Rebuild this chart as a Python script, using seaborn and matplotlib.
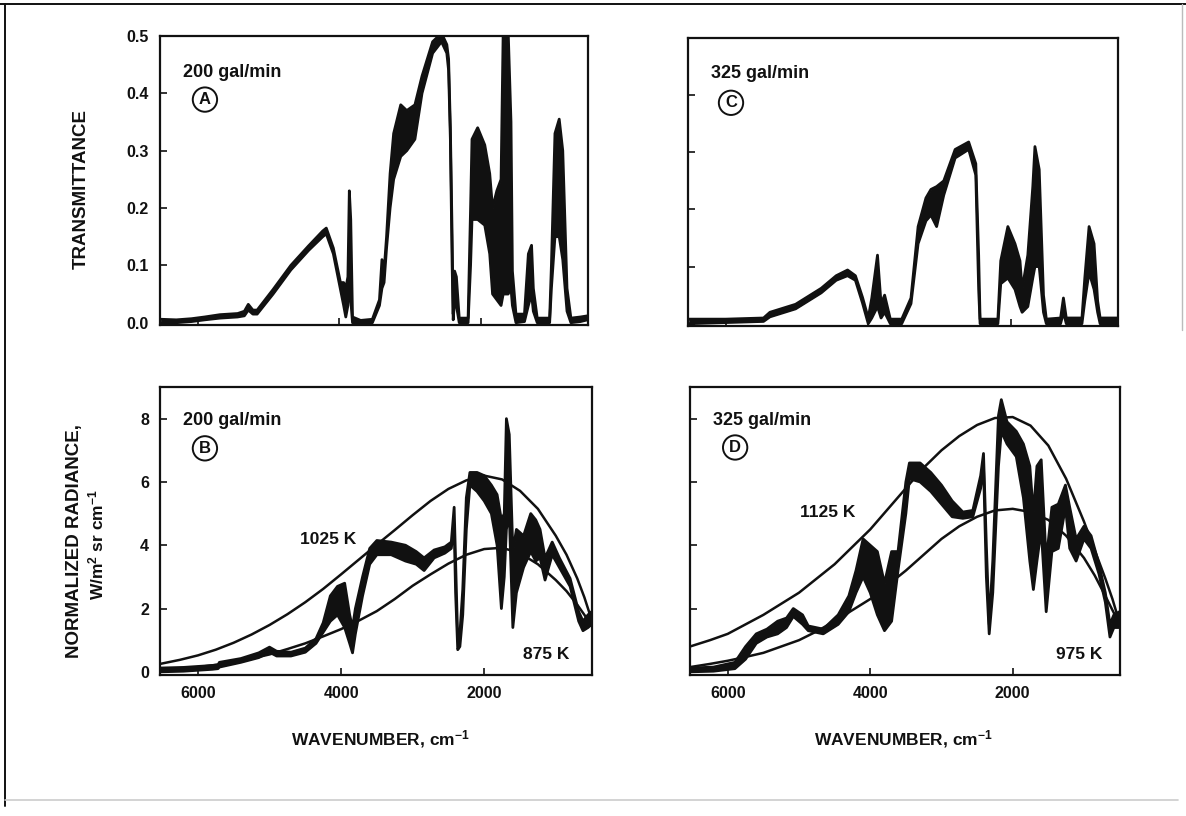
import matplotlib
matplotlib.use("Agg")
import matplotlib.pyplot as plt
from matplotlib.lines import Line2D
import pandas as pd
import seaborn as sns

# ---------------- data ----------------
# transmittance, 200 gal/min (A): wavenumber, lower and upper edge of the trace
wn_a = [6520, 6300, 6085, 5900, 5685, 5435, 5340, 5285, 5220, 5160, 4935, 4685, 4435, 4235,
        4185, 4085, 3985, 3940, 3910, 3880, 3860, 3840, 3815, 3700, 3535, 3435, 3400, 3370,
        3335, 3285, 3235, 3135, 3050, 2935, 2835, 2685, 2560, 2485, 2460, 2435, 2410, 2395, 2375,
        2350, 2310, 2185, 2150, 2130, 2050, 1950, 1880, 1840, 1780, 1720, 1690, 1620, 1580,
        1560, 1510, 1390, 1335, 1290, 1265, 1210, 1035, 1010, 960, 900, 850, 790, 735, 600, 500]
lo_a = [0.000, 0.000, 0.002, 0.005, 0.008, 0.010, 0.012, 0.022, 0.015, 0.015, 0.050, 0.092, 0.126, 0.150,
        0.155, 0.120, 0.058, 0.030, 0.010, 0.030, 0.070, 0.040, 0.000, 0.000, 0.000, 0.030, 0.060, 0.070,
        0.130, 0.200, 0.250, 0.290, 0.300, 0.320, 0.400, 0.470, 0.490, 0.470, 0.440, 0.320, 0.100, 0.005, 0.040,
        0.030, 0.000, 0.000, 0.100, 0.180, 0.180, 0.170, 0.120, 0.050, 0.040, 0.030, 0.050, 0.050, 0.060,
        0.030, 0.000, 0.002, 0.030, 0.050, 0.020, 0.000, 0.000, 0.060, 0.150, 0.150, 0.110, 0.020, 0.000, 0.002, 0.005]
hi_a = [0.006, 0.005, 0.007, 0.010, 0.014, 0.016, 0.020, 0.032, 0.022, 0.022, 0.058, 0.100, 0.134, 0.160,
        0.165, 0.130, 0.070, 0.070, 0.060, 0.080, 0.230, 0.180, 0.010, 0.004, 0.006, 0.040, 0.110, 0.090,
        0.150, 0.260, 0.330, 0.380, 0.370, 0.380, 0.430, 0.490, 0.505, 0.485, 0.460, 0.340, 0.150, 0.015, 0.090,
        0.080, 0.008, 0.008, 0.200, 0.320, 0.340, 0.310, 0.260, 0.200, 0.230, 0.250, 0.510, 0.510, 0.350,
        0.090, 0.015, 0.015, 0.120, 0.135, 0.060, 0.008, 0.008, 0.100, 0.330, 0.355, 0.300, 0.060, 0.008, 0.010, 0.012]

# transmittance, 325 gal/min (C)
wn_c = [6520, 6000, 5470, 5380, 5020, 4660, 4450, 4290, 4180, 4080, 4000, 3950, 3870, 3820,
        3770, 3690, 3530, 3400, 3300, 3190, 3120, 3040, 2940, 2780, 2590, 2490, 2450, 2430,
        2180, 2140, 2040, 1940, 1870, 1840, 1760, 1690, 1660, 1600, 1540, 1500, 1300, 1260,
        1220, 1000, 960, 900, 830, 780, 745, 500]
lo_c = [0.000, 0.002, 0.004, 0.012, 0.026, 0.054, 0.076, 0.084, 0.076, 0.036, 0.000, 0.010, 0.030, 0.010,
        0.020, 0.000, 0.000, 0.035, 0.140, 0.180, 0.190, 0.170, 0.225, 0.290, 0.305, 0.260, 0.060, 0.000,
        0.000, 0.070, 0.080, 0.060, 0.030, 0.020, 0.030, 0.080, 0.100, 0.100, 0.020, 0.000, 0.000, 0.020,
        0.000, 0.000, 0.040, 0.090, 0.060, 0.020, 0.000, 0.000]
hi_c = [0.008, 0.008, 0.010, 0.020, 0.034, 0.062, 0.084, 0.094, 0.084, 0.046, 0.010, 0.045, 0.120, 0.035,
        0.050, 0.008, 0.008, 0.045, 0.170, 0.220, 0.235, 0.240, 0.250, 0.305, 0.318, 0.280, 0.120, 0.008,
        0.008, 0.110, 0.170, 0.140, 0.110, 0.060, 0.120, 0.240, 0.310, 0.270, 0.050, 0.008, 0.010, 0.045,
        0.010, 0.010, 0.080, 0.170, 0.140, 0.040, 0.010, 0.010]

# normalized radiance, 200 gal/min (B)
wn_b = [6530, 6200, 5800, 5720, 5700, 5400, 5150, 5000, 4900, 4700, 4500, 4350, 4250, 4150,
        4050, 3950, 3880, 3840, 3800, 3700, 3600, 3500, 3300, 3100, 2950, 2840, 2700, 2550,
        2460, 2420, 2400, 2370, 2340, 2300, 2250, 2200, 2100, 2000, 1900, 1820, 1760, 1720,
        1690, 1650, 1600, 1550, 1450, 1350, 1280, 1220, 1150, 1050, 950, 800, 680, 620, 550, 500]
lo_b = [0.00, 0.02, 0.08, 0.10, 0.15, 0.30, 0.45, 0.62, 0.50, 0.50, 0.62, 0.90, 1.25, 1.60,
        1.80, 1.40, 0.90, 0.60, 1.20, 2.40, 3.40, 3.70, 3.70, 3.50, 3.40, 3.20, 3.60, 3.75,
        3.90, 4.60, 2.50, 0.70, 0.80, 1.80, 4.50, 5.90, 5.70, 5.40, 5.00, 4.00, 2.00, 3.00,
        4.50, 5.00, 1.40, 2.50, 3.30, 3.80, 3.50, 3.60, 2.90, 3.70, 3.30, 2.70, 1.60, 1.30, 1.40, 1.50]
hi_b = [0.12, 0.14, 0.20, 0.22, 0.30, 0.42, 0.60, 0.78, 0.65, 0.62, 0.75, 1.05, 1.55, 2.40,
        2.70, 2.80, 1.80, 1.40, 2.00, 3.00, 3.90, 4.15, 4.10, 4.00, 3.80, 3.60, 3.85, 3.95,
        4.10, 5.20, 3.50, 1.00, 1.20, 2.60, 5.50, 6.30, 6.30, 6.20, 5.90, 5.60, 4.80, 5.00,
        8.00, 7.50, 3.80, 4.50, 4.30, 5.00, 4.80, 4.50, 3.60, 4.10, 3.60, 2.95, 1.90, 1.60, 1.80, 1.90]

# normalized radiance, 325 gal/min (D)
wn_d = [6530, 6200, 5900, 5750, 5600, 5450, 5300, 5175, 5080, 4950, 4870, 4660, 4450, 4300,
        4200, 4100, 4000, 3900, 3800, 3700, 3610, 3500, 3450, 3300, 3150, 3000, 2850, 2700,
        2560, 2450, 2410, 2370, 2330, 2280, 2200, 2160, 2080, 1950, 1850, 1760, 1710, 1660,
        1600, 1530, 1450, 1360, 1260, 1200, 1110, 1000, 900, 790, 700, 635, 580, 500]
lo_d = [0.00, 0.02, 0.10, 0.40, 0.90, 1.10, 1.20, 1.40, 1.75, 1.50, 1.30, 1.20, 1.50, 1.90,
        2.50, 3.00, 2.50, 1.80, 1.30, 1.60, 3.20, 5.00, 6.10, 6.00, 5.70, 5.30, 4.90, 4.85,
        4.90, 5.80, 6.50, 3.00, 1.20, 2.50, 6.50, 7.60, 7.20, 6.80, 5.50, 3.50, 2.60, 3.50,
        4.50, 1.90, 3.80, 3.90, 5.20, 3.90, 3.50, 4.20, 3.90, 3.10, 2.20, 1.10, 1.40, 1.40]
hi_d = [0.12, 0.15, 0.30, 0.80, 1.20, 1.35, 1.60, 1.70, 2.00, 1.80, 1.45, 1.35, 1.80, 2.40,
        3.20, 4.20, 4.00, 3.80, 2.80, 3.80, 3.80, 6.00, 6.60, 6.60, 6.30, 5.90, 5.40, 5.05,
        5.10, 6.20, 6.90, 4.00, 1.50, 3.50, 8.10, 8.60, 7.90, 7.60, 7.20, 6.50, 5.00, 6.50,
        6.70, 3.50, 5.20, 5.30, 5.90, 5.20, 4.20, 4.60, 4.30, 3.40, 2.50, 1.50, 1.80, 1.90]

# blackbody reference curves
bb_wn = [6530, 6250, 6000, 5750, 5500, 5250, 5000, 4750, 4500, 4250, 4000, 3750, 3500, 3250,
         3000, 2750, 2500, 2250, 2000, 1750, 1500, 1250, 1000, 850, 700, 600, 500]
bb_1025 = [0.25, 0.38, 0.52, 0.70, 0.92, 1.18, 1.48, 1.82, 2.20, 2.62, 3.08, 3.55, 4.02, 4.48,
           4.95, 5.40, 5.78, 6.05, 6.20, 6.08, 5.72, 5.15, 4.30, 3.70, 2.95, 2.35, 1.65]
bb_875 = [0.05, 0.10, 0.15, 0.22, 0.30, 0.42, 0.55, 0.72, 0.90, 1.12, 1.35, 1.62, 1.92, 2.30,
          2.72, 3.08, 3.42, 3.70, 3.88, 3.92, 3.75, 3.40, 2.90, 2.55, 2.12, 1.80, 1.45]
bb_1125 = [0.80, 1.00, 1.20, 1.50, 1.80, 2.15, 2.50, 2.95, 3.40, 3.95, 4.50, 5.15, 5.80, 6.45,
           7.00, 7.45, 7.80, 8.02, 8.05, 7.78, 7.15, 6.10, 4.75, 3.85, 2.95, 2.30, 1.55]
bb_975 = [0.15, 0.25, 0.35, 0.47, 0.60, 0.80, 1.00, 1.28, 1.60, 1.95, 2.30, 2.75, 3.20, 3.70,
          4.20, 4.60, 4.90, 5.10, 5.15, 5.05, 4.80, 4.30, 3.60, 3.05, 2.40, 1.95, 1.50]

x_ticks = [6000, 4000, 2000]

# ---------------- style ----------------
sns.set_theme(style="ticks")
plt.rcParams['font.family'] = ['Liberation Sans', 'DejaVu Sans']
plt.rcParams['font.weight'] = 'bold'
plt.rcParams['mathtext.fontset'] = 'custom'
plt.rcParams['mathtext.rm'] = 'Liberation Sans:bold'
plt.rcParams['mathtext.it'] = 'Liberation Sans:bold'
plt.rcParams['mathtext.bf'] = 'Liberation Sans:bold'
plt.rcParams['mathtext.default'] = 'rm'
INK = '#111111'

fig = plt.figure(figsize=(11.86, 8.16), dpi=100)


def px_axes(x0, y0, x1, y1):
    # axes placed from pixel corners of the scan
    return fig.add_axes([x0 / 1186, 1 - y1 / 816, (x1 - x0) / 1186, (y1 - y0) / 816])


def draw_trace(ax, wn, lo, hi):
    df = pd.DataFrame({'wn': wn, 'lo': lo, 'hi': hi})
    ax.fill_between(df['wn'], df['lo'], df['hi'], color=INK, lw=0)
    sns.lineplot(data=df, x='wn', y='lo', ax=ax, color=INK, lw=2.0, sort=False, estimator=None)
    sns.lineplot(data=df, x='wn', y='hi', ax=ax, color=INK, lw=2.0, sort=False, estimator=None)


def draw_bb(ax, vals):
    df = pd.DataFrame({'wn': bb_wn, 'rad': vals})
    sns.lineplot(data=df, x='wn', y='rad', ax=ax, color=INK, lw=1.8, sort=False, estimator=None)


def style_axes(ax, ylim, yticks, ylabels, xlabels):
    ax.set_xlim(6530, 494)
    ax.set_ylim(*ylim)
    ax.set_xticks(x_ticks)
    ax.set_yticks(yticks)
    ax.set_xlabel('')
    ax.set_ylabel('')
    ax.tick_params(direction='in', length=5, width=1.2, color=INK, labelsize=11.5,
                   labelcolor=INK, pad=8)
    if xlabels:
        ax.set_xticklabels([str(t) for t in x_ticks], fontweight='bold')
    else:
        ax.set_xticklabels([])
    if ylabels:
        ax.set_yticklabels(ylabels, fontweight='bold')
    else:
        ax.set_yticklabels([])
    for sp in ax.spines.values():
        sp.set_visible(True)
        sp.set_linewidth(1.6)
        sp.set_color(INK)


def circled(ax, x, y, letter):
    ax.text(x, y, letter, transform=ax.transAxes, ha='center', va='center', fontsize=12,
            fontweight='bold', color=INK,
            bbox=dict(boxstyle='circle,pad=0.28', fc='white', ec=INK, lw=1.4))


ax_a = px_axes(160, 36, 588, 325)
ax_c = px_axes(688, 38, 1118, 326)
ax_b = px_axes(160, 387, 592, 675)
ax_d = px_axes(690, 387, 1120, 675)

t_ticks = [0.0, 0.1, 0.2, 0.3, 0.4, 0.5]
t_labels = ['0.0', '0.1', '0.2', '0.3', '0.4', '0.5']
r_ticks = [0, 2, 4, 6, 8]
r_labels = ['0', '2', '4', '6', '8']

draw_trace(ax_a, wn_a, lo_a, hi_a)
style_axes(ax_a, (-0.004, 0.5), t_ticks, t_labels, False)
draw_trace(ax_c, wn_c, lo_c, hi_c)
style_axes(ax_c, (-0.004, 0.5), t_ticks, None, False)

draw_bb(ax_b, bb_1025)
draw_bb(ax_b, bb_875)
draw_trace(ax_b, wn_b, lo_b, hi_b)
style_axes(ax_b, (-0.1, 9.0), r_ticks, r_labels, True)
draw_bb(ax_d, bb_1125)
draw_bb(ax_d, bb_975)
draw_trace(ax_d, wn_d, lo_d, hi_d)
style_axes(ax_d, (-0.1, 9.0), r_ticks, None, True)

# panel annotations
for ax, txt in [(ax_a, '200 gal/min'), (ax_c, '325 gal/min')]:
    ax.text(0.053, 0.875, txt, transform=ax.transAxes, fontsize=13, fontweight='bold',
            color=INK, va='center', ha='left')
for ax, txt in [(ax_b, '200 gal/min'), (ax_d, '325 gal/min')]:
    ax.text(0.053, 0.885, txt, transform=ax.transAxes, fontsize=13, fontweight='bold',
            color=INK, va='center', ha='left')
circled(ax_a, 0.105, 0.78, 'A')
circled(ax_c, 0.10, 0.775, 'C')
circled(ax_b, 0.104, 0.787, 'B')
circled(ax_d, 0.105, 0.79, 'D')

ax_b.text(0.39, 0.47, '1025 K', transform=ax_b.transAxes, fontsize=12.5, fontweight='bold',
          color=INK, ha='center', va='center')
ax_b.text(0.895, 0.07, '875 K', transform=ax_b.transAxes, fontsize=12.5, fontweight='bold',
          color=INK, ha='center', va='center')
ax_d.text(0.32, 0.565, '1125 K', transform=ax_d.transAxes, fontsize=12.5, fontweight='bold',
          color=INK, ha='center', va='center')
ax_d.text(0.905, 0.07, '975 K', transform=ax_d.transAxes, fontsize=12.5, fontweight='bold',
          color=INK, ha='center', va='center')

# axis titles
fig.text(81 / 1186, 1 - 189 / 816, 'TRANSMITTANCE', rotation=90, ha='center', va='center',
         fontsize=13.5, fontweight='bold', color=INK)
fig.text(75 / 1186, 1 - 541 / 816, 'NORMALIZED RADIANCE,', rotation=90, ha='center',
         va='center', fontsize=13.5, fontweight='bold', color=INK)
fig.text(96 / 1186, 1 - 545 / 816, r'W/m$^2$ sr cm$^{-1}$', rotation=90, ha='center',
         va='center', fontsize=12.5, fontweight='bold', color=INK)
fig.text(380 / 1186, 1 - 739 / 816, r'WAVENUMBER, cm$^{-1}$', ha='center', va='center',
         fontsize=12.5, fontweight='bold', color=INK)
fig.text(903 / 1186, 1 - 739 / 816, r'WAVENUMBER, cm$^{-1}$', ha='center', va='center',
         fontsize=12.5, fontweight='bold', color=INK)

# page frame of the scan
fig.add_artist(Line2D([0, 1], [1 - 4 / 816, 1 - 4 / 816], color=INK, lw=1.4))
fig.add_artist(Line2D([5 / 1186, 5 / 1186], [1 - 4 / 816, 1 - 806 / 816], color=INK, lw=1.4))
fig.add_artist(Line2D([1182 / 1186, 1182 / 1186], [1 - 4 / 816, 1 - 330 / 816], color='#bbbbbb', lw=1.0))
fig.add_artist(Line2D([5 / 1186, 1 - 8 / 1186], [1 - 800 / 816, 1 - 800 / 816], color='#cccccc', lw=1.2))

fig.savefig('out.png', dpi=100)
